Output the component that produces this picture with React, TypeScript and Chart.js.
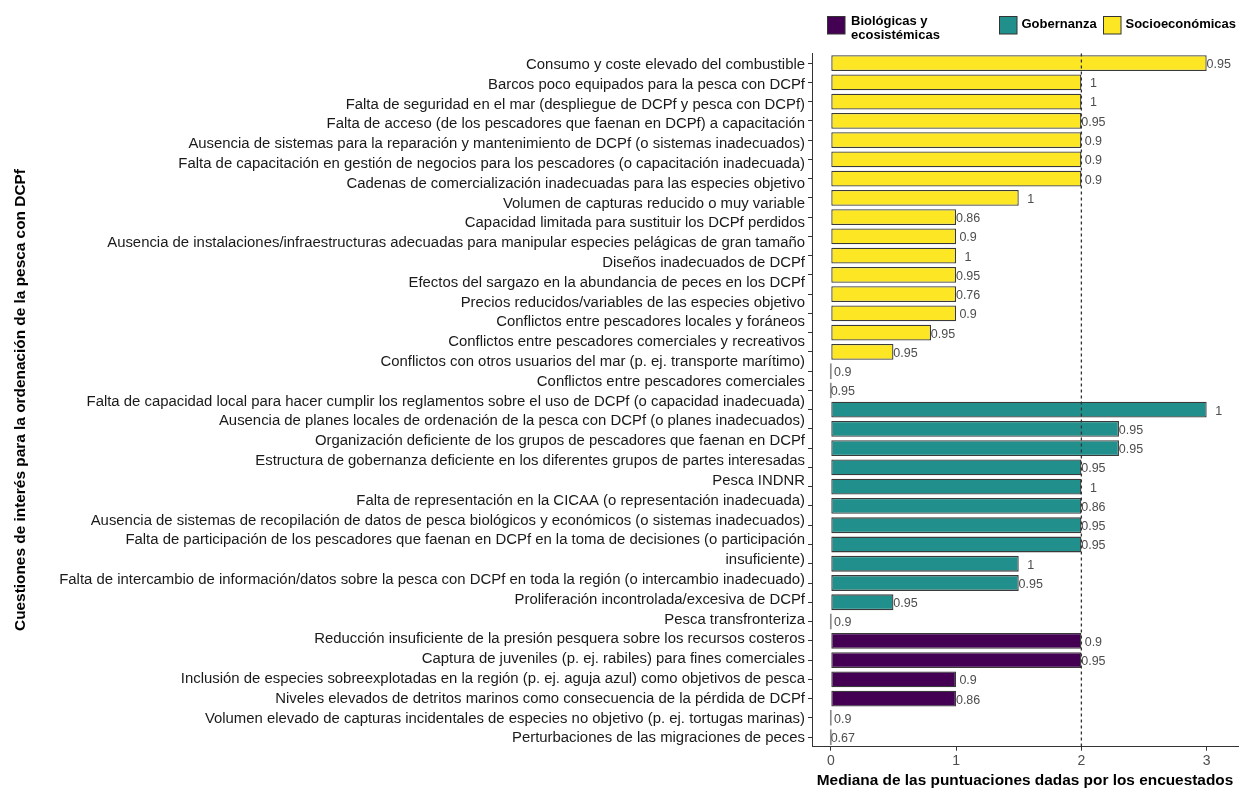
import { useEffect, useRef } from 'react';
import { Chart, registerables } from 'chart.js';

Chart.register(...registerables);

// ---- Text lines shown along the vertical axis (35 lines, as in the source figure)
const issueLines = [
  'Consumo y coste elevado del combustible',
  'Barcos poco equipados para la pesca con DCPf',
  'Falta de seguridad en el mar (despliegue de DCPf y pesca con DCPf)',
  'Falta de acceso (de los pescadores que faenan en DCPf) a capacitación',
  'Ausencia de sistemas para la reparación y mantenimiento de DCPf (o sistemas inadecuados)',
  'Falta de capacitación en gestión de negocios para los pescadores (o capacitación inadecuada)',
  'Cadenas de comercialización inadecuadas para las especies objetivo',
  'Volumen de capturas reducido o muy variable',
  'Capacidad limitada para sustituir los DCPf perdidos',
  'Ausencia de instalaciones/infraestructuras adecuadas para manipular especies pelágicas de gran tamaño',
  'Diseños inadecuados de DCPf',
  'Efectos del sargazo en la abundancia de peces en los DCPf',
  'Precios reducidos/variables de las especies objetivo',
  'Conflictos entre pescadores locales y foráneos',
  'Conflictos entre pescadores comerciales y recreativos',
  'Conflictos con otros usuarios del mar (p. ej. transporte marítimo)',
  'Conflictos entre pescadores comerciales',
  'Falta de capacidad local para hacer cumplir los reglamentos sobre el uso de DCPf (o capacidad inadecuada)',
  'Ausencia de planes locales de ordenación de la pesca con DCPf (o planes inadecuados)',
  'Organización deficiente de los grupos de pescadores que faenan en DCPf',
  'Estructura de gobernanza deficiente en los diferentes grupos de partes interesadas',
  'Pesca INDNR',
  'Falta de representación en la CICAA (o representación inadecuada)',
  'Ausencia de sistemas de recopilación de datos de pesca biológicos y económicos (o sistemas inadecuados)',
  'Falta de participación de los pescadores que faenan en DCPf en la toma de decisiones (o participación',
  'insuficiente)',
  'Falta de intercambio de información/datos sobre la pesca con DCPf en toda la región (o intercambio inadecuado)',
  'Proliferación incontrolada/excesiva de DCPf',
  'Pesca transfronteriza',
  'Reducción insuficiente de la presión pesquera sobre los recursos costeros',
  'Captura de juveniles (p. ej. rabiles) para fines comerciales',
  'Inclusión de especies sobreexplotadas en la región (p. ej. aguja azul) como objetivos de pesca',
  'Niveles elevados de detritos marinos como consecuencia de la pérdida de DCPf',
  'Volumen elevado de capturas incidentales de especies no objetivo (p. ej. tortugas marinas)',
  'Perturbaciones de las migraciones de peces',
];

// ---- Groups
const groupNames = ['Biológicas y ecosistémicas', 'Gobernanza', 'Socioeconómicas'];
const legendLines = [['Biológicas y', 'ecosistémicas'], ['Gobernanza'], ['Socioeconómicas']];
const groupColors = ['#440154', '#21908C', '#FDE725'];

// ---- Medians (bar lengths), top to bottom within each group
const socioMedians = [3, 2, 2, 2, 2, 2, 2, 1.5, 1, 1, 1, 1, 1, 1, 0.8, 0.5, 0, 0];
const govMedians = [3, 2.3, 2.3, 2, 2, 2, 2, 2, 1.5, 1.5, 0.5, 0];
const bioMedians = [2, 2, 1, 1, 0, 0];

// ---- Agreement values printed next to each bar
const socioAgreement = [0.95, 1, 1, 0.95, 0.9, 0.9, 0.9, 1, 0.86, 0.9, 1, 0.95, 0.76, 0.9, 0.95, 0.95, 0.9, 0.95];
const govAgreement = [1, 0.95, 0.95, 0.95, 1, 0.86, 0.95, 0.95, 1, 0.95, 0.95, 0.9];
const bioAgreement = [0.9, 0.95, 0.9, 0.86, 0.9, 0.67];

// ---- Axis
const xTicks = [0, 1, 2, 3];
const referenceLine = 2;
const xTitle = 'Mediana de las puntuaciones dadas por los encuestados';
const yTitle = 'Cuestiones de interés para la ordenación de la pesca con DCPf';

// ---- Derived row tables
const rowMedians = [...socioMedians, ...govMedians, ...bioMedians];
const rowAgreement = [...socioAgreement, ...govAgreement, ...bioAgreement];
const rowKeys = rowMedians.map((_, i) => `fila ${i + 1}`);
const blanks = (n: number) => Array(n).fill(null);
const socioData = [...socioMedians, ...blanks(govMedians.length + bioMedians.length)];
const govData = [...blanks(socioMedians.length), ...govMedians, ...blanks(bioMedians.length)];
const bioData = [...blanks(socioMedians.length + govMedians.length), ...bioMedians];

const FONT = '"Liberation Sans", Arial, Helvetica, sans-serif';

const refLinePlugin = {
  id: 'refLine',
  afterDatasetsDraw(chart: any) {
    const { ctx, chartArea, scales } = chart;
    const x = scales.x.getPixelForValue(referenceLine);
    ctx.save();
    ctx.strokeStyle = '#333333';
    ctx.lineWidth = 1.3;
    ctx.setLineDash([3, 3]);
    ctx.beginPath();
    ctx.moveTo(x, chartArea.top);
    ctx.lineTo(x, chartArea.bottom);
    ctx.stroke();
    ctx.restore();
  },
};

const valueLabelPlugin = {
  id: 'valueLabels',
  afterDatasetsDraw(chart: any) {
    const { ctx, scales } = chart;
    ctx.save();
    ctx.font = `12.5px ${FONT}`;
    ctx.fillStyle = '#4d4d4d';
    ctx.textAlign = 'center';
    ctx.textBaseline = 'middle';
    chart.data.datasets.forEach((ds: any, di: number) => {
      const meta = chart.getDatasetMeta(di);
      meta.data.forEach((bar: any, i: number) => {
        const v = ds.data[i];
        if (v === null || v === undefined) return;
        const x = scales.x.getPixelForValue(v) + 12;
        ctx.fillText(String(rowAgreement[i]), x, bar.y + 1.5);
      });
    });
    ctx.restore();
  },
};

const legendPlugin = {
  id: 'customLegend',
  afterDraw(chart: any) {
    const { ctx } = chart;
    const itemX = [827.5, 999.5, 1103.5];
    const boxTop = 16.5;
    const box = 17.5;
    ctx.save();
    ctx.font = `bold 13px ${FONT}`;
    ctx.textAlign = 'left';
    ctx.textBaseline = 'middle';
    chart.data.datasets.forEach((ds: any, i: number) => {
      const x = itemX[i];
      ctx.fillStyle = ds.backgroundColor;
      ctx.fillRect(x, boxTop, box, box);
      ctx.strokeStyle = '#333333';
      ctx.lineWidth = 1;
      ctx.strokeRect(x, boxTop, box, box);
      ctx.fillStyle = '#000000';
      const lines = legendLines[i];
      if (lines.length === 1) {
        ctx.fillText(lines[0], x + 22, 24.5);
      } else {
        lines.forEach((ln, k) => ctx.fillText(ln, x + 23.5, 21 + k * 14.5));
      }
    });
    ctx.restore();
  },
};

export default function App() {
  const canvasRef = useRef<HTMLCanvasElement | null>(null);

  useEffect(() => {
    if (!canvasRef.current) return;
    Chart.defaults.font.family = FONT;
    const common = {
      borderColor: (c: any) => (c.raw === 0 ? '#8c8c8c' : '#3a3a3a'),
      borderWidth: 1.3,
      borderSkipped: false,
      grouped: false,
      barPercentage: 0.82,
      categoryPercentage: 1,
      minBarLength: 2,
      xAxisID: 'x',
      yAxisID: 'y',
    };
    const chart = new Chart(canvasRef.current, {
      type: 'bar',
      data: {
        labels: rowKeys,
        datasets: [
          { ...common, label: groupNames[0], data: bioData, backgroundColor: groupColors[0] },
          { ...common, label: groupNames[1], data: govData, backgroundColor: groupColors[1] },
          { ...common, label: groupNames[2], data: socioData, backgroundColor: groupColors[2] },
        ] as any,
      },
      options: {
        indexAxis: 'y',
        animation: false,
        responsive: false,
        devicePixelRatio: 1,
        layout: { padding: { top: 53.4, right: 4, bottom: 0, left: 0 } },
        plugins: { legend: { display: false }, tooltip: { enabled: false } },
        scales: {
          x: {
            type: 'linear',
            position: 'bottom',
            min: -0.15,
            max: 3.25,
            afterBuildTicks: (s: any) => {
              s.ticks = xTicks.map((v) => ({ value: v }));
            },
            afterFit: (s: any) => {
              s.height = 41.3;
            },
            grid: { drawOnChartArea: false, drawTicks: true, tickLength: 4, color: '#333333' },
            border: { display: true, color: '#333333', width: 1 },
            ticks: { color: '#4d4d4d', font: { size: 14 }, padding: 2 },
            title: {
              display: true,
              text: xTitle,
              color: '#000000',
              font: { size: 15.4, weight: 'bold' },
              padding: { top: 0, bottom: -1.5 },
            },
          },
          y: {
            type: 'category',
            position: 'left',
            weight: 0,
            offset: true,
            afterFit: (s: any) => {
              s.width = 5;
            },
            grid: { display: true, offset: false, drawOnChartArea: false, drawTicks: true, tickLength: 4, color: '#333333' },
            border: { display: true, color: '#333333', width: 1 },
            ticks: { display: false, autoSkip: false },
          },
          yLabels: {
            type: 'category',
            position: 'left',
            weight: 1,
            offset: true,
            labels: issueLines,
            afterFit: (s: any) => {
              s.width = 807;
            },
            grid: { display: false, drawTicks: false, tickLength: 0 },
            border: { display: false },
            ticks: { autoSkip: false, padding: 2, labelOffset: 1.5, color: '#1a1a1a', font: { size: 14.9 } },
            title: {
              display: true,
              text: yTitle,
              color: '#000000',
              font: { size: 15.4, weight: 'bold' },
              padding: { top: 11.5, bottom: 0 },
            },
          },
        } as any,
      },
      plugins: [refLinePlugin, valueLabelPlugin, legendPlugin],
    });
    return () => chart.destroy();
  }, []);

  return (
    <div style={{ position: 'absolute', left: 0, top: 0, width: 1242, height: 788, background: '#ffffff' }}>
      <canvas ref={canvasRef} width={1242} height={788} />
    </div>
  );
}
